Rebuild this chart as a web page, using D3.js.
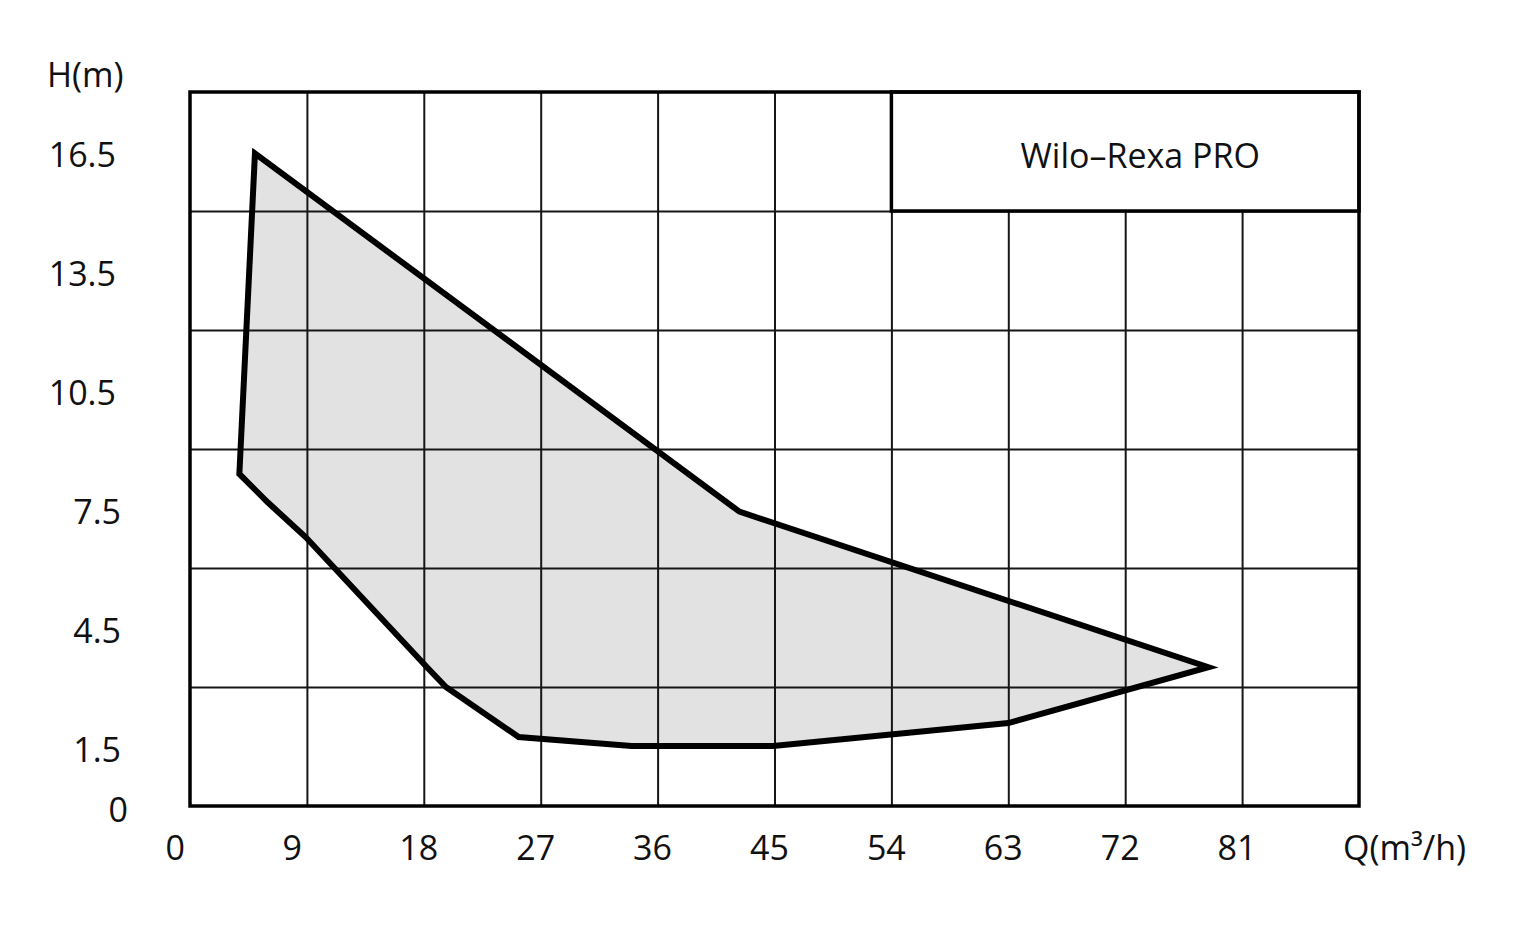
<!DOCTYPE html>
<html>
<head>
<meta charset="utf-8">
<script src="https://cdn.jsdelivr.net/npm/d3@7"></script>
<style>
  html, body { margin: 0; padding: 0; background: #fff; }
  svg { display: block; }
  text { font-family: "Open Sans", "Noto Sans", sans-serif; fill: #111; }
</style>
</head>
<body>
<svg id="chart" width="1517" height="930"></svg>
<script>
// ---- data ----
const flowQ = [5.0, 3.8, 6.0, 8.9, 18.3, 19.7, 25.3, 34.0, 44.9, 63.0, 78.4, 42.3];
const headH = [16.45, 8.37, 7.65, 6.78, 3.48, 3.0, 1.74, 1.51, 1.51, 2.09, 3.5, 7.42];
const xTickLabels = [0, 9, 18, 27, 36, 45, 54, 63, 72, 81];
const yTickLabels = [0, 1.5, 4.5, 7.5, 10.5, 13.5, 16.5];
const xGrid = [9, 18, 27, 36, 45, 54, 63, 72, 81];
const yGrid = [3, 6, 9, 12, 15];
const xDomain = [0, 90];
const yDomain = [0, 18];
const legendQ = [54, 90];
const legendH = [15, 18];
const legendName = "Wilo\u2013Rexa PRO";
const xTitle = "Q(m\u00B3/h)";
const yTitle = "H(m)";

// ---- layout ----
const svg = d3.select("#chart");
const L = 190, R = 1359, T = 92, B = 806;
const FS = 34;
const x = d3.scaleLinear().domain(xDomain).range([L, R]);
const y = d3.scaleLinear().domain(yDomain).range([B, T]);

const pts = flowQ.map((q, i) => [x(q), y(headH[i])]);
const line = d3.line().curve(d3.curveLinearClosed);

// polygon fill
svg.append("path")
  .attr("d", line(pts))
  .attr("fill", "#e2e2e2")
  .attr("stroke", "none");

// grid via axes
const gx = svg.append("g")
  .attr("transform", `translate(0,${B})`)
  .call(d3.axisBottom(x).tickValues(xGrid).tickSize(-(B - T)).tickFormat(""));
gx.select(".domain").remove();
gx.selectAll(".tick line").attr("stroke", "#161616").attr("stroke-width", 2);

const gy = svg.append("g")
  .attr("transform", `translate(${L},0)`)
  .call(d3.axisLeft(y).tickValues(yGrid).tickSize(-(R - L)).tickFormat(""));
gy.select(".domain").remove();
gy.selectAll(".tick line").attr("stroke", "#161616").attr("stroke-width", 2);

// polygon outline
svg.append("path")
  .attr("d", line(pts))
  .attr("fill", "none")
  .attr("stroke", "#000")
  .attr("stroke-width", 6)
  .attr("stroke-linejoin", "miter");

// legend box
svg.append("rect")
  .attr("x", x(legendQ[0]))
  .attr("y", y(legendH[1]))
  .attr("width", x(legendQ[1]) - x(legendQ[0]))
  .attr("height", y(legendH[0]) - y(legendH[1]))
  .attr("fill", "#fff")
  .attr("stroke", "#000")
  .attr("stroke-width", 3.5);
svg.append("text")
  .attr("x", x((legendQ[0] + legendQ[1]) / 2) + 15)
  .attr("y", y((legendH[0] + legendH[1]) / 2) + 16)
  .attr("text-anchor", "middle")
  .attr("font-size", FS)
  .text(legendName);

// frame
svg.append("rect")
  .attr("x", L).attr("y", T)
  .attr("width", R - L).attr("height", B - T)
  .attr("fill", "none")
  .attr("stroke", "#000")
  .attr("stroke-width", 3.5);

// x tick labels
const ax = svg.append("g")
  .attr("transform", `translate(0,${B})`)
  .call(d3.axisBottom(x).tickValues(xTickLabels).tickSize(0).tickFormat(d3.format("d")));
ax.select(".domain").remove();
ax.selectAll(".tick text")
  .attr("font-size", FS)
  .attr("font-family", "Open Sans, Noto Sans, sans-serif")
  .attr("fill", "#111")
  .attr("text-anchor", "start")
  .attr("x", -25)
  .attr("dy", null)
  .attr("y", 54);

// y tick labels
const ay = svg.append("g")
  .attr("transform", `translate(${L},0)`)
  .call(d3.axisLeft(y).tickValues(yTickLabels).tickSize(0).tickFormat(d => d === 0 ? "0" : d3.format(".1f")(d)));
ay.select(".domain").remove();
ay.selectAll(".tick text")
  .attr("font-size", FS)
  .attr("font-family", "Open Sans, Noto Sans, sans-serif")
  .attr("fill", "#111")
  .attr("text-anchor", "end")
  .attr("dy", null)
  .attr("y", 15)
  .attr("x", d => d === 0 ? -62 : (d >= 10 ? -74 : -69));

// axis titles
svg.append("text")
  .attr("x", 47).attr("y", 87)
  .attr("font-size", FS)
  .text(yTitle);
svg.append("text")
  .attr("x", 1343).attr("y", 860)
  .attr("font-size", FS)
  .text(xTitle);
</script>
</body>
</html>
